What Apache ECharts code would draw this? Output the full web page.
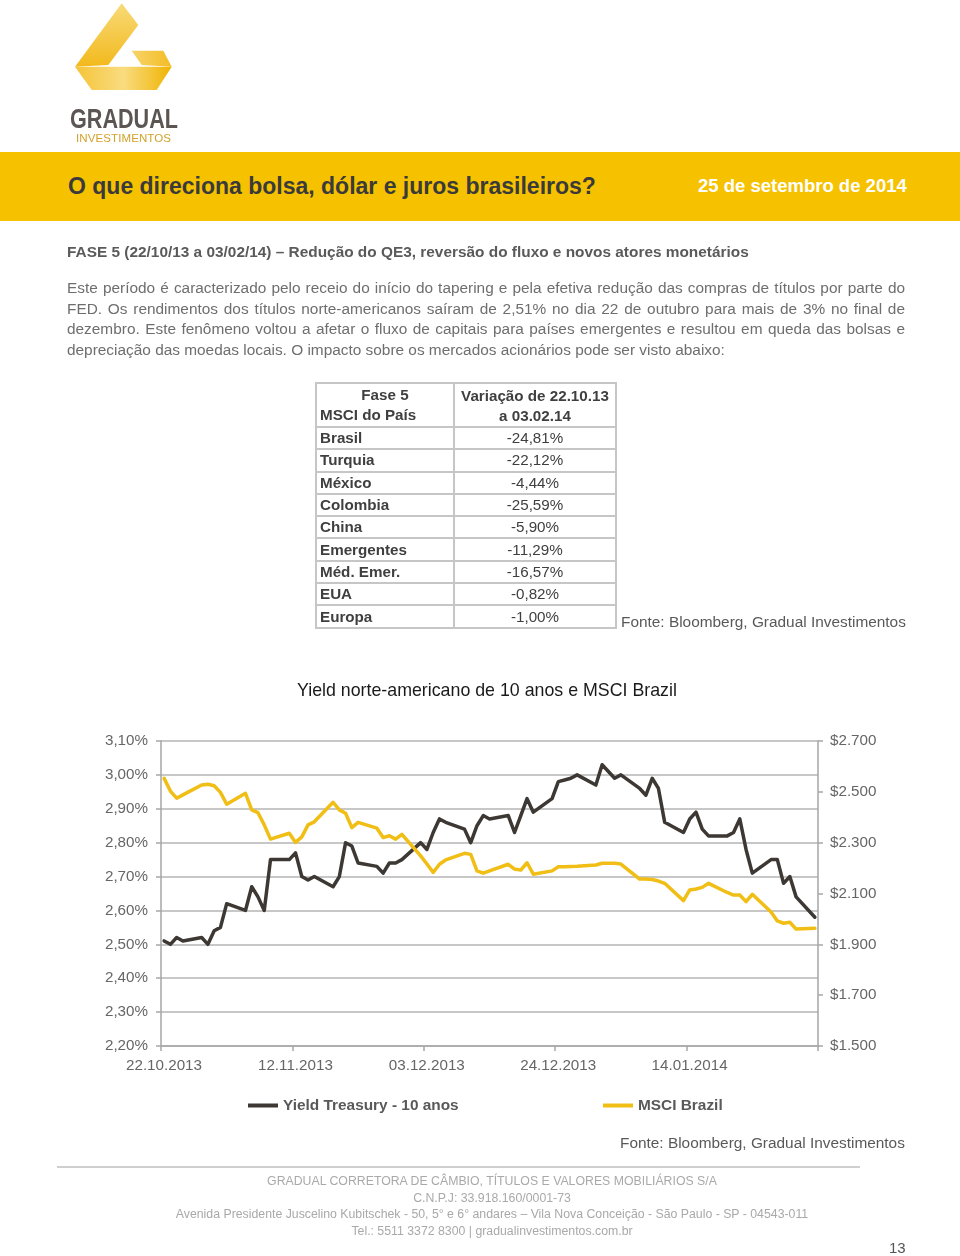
<!DOCTYPE html>
<html><head><meta charset="utf-8">
<script src="https://cdn.jsdelivr.net/npm/echarts@6/dist/echarts.min.js"></script>
<style>
html,body{margin:0;padding:0;background:#fff;}
body{width:960px;height:1256px;position:relative;overflow:hidden;font-family:"Liberation Sans",Arial,sans-serif;}
#chart{position:absolute;left:0;top:0;width:960px;height:1256px;}
.abs{position:absolute;white-space:nowrap;}
.pl{position:absolute;left:67px;width:838px;font-size:15.4px;line-height:20px;color:#6e6e6e;white-space:nowrap;}
.j{text-align:justify;text-align-last:justify;white-space:normal;}
table.t{position:absolute;left:315px;top:382px;border-collapse:collapse;font-size:15.2px;color:#3f3f3f;}
table.t td{border:2px solid #c6c6c6;padding:0 3px;height:20.3px;line-height:20px;}
table.t td.n{font-weight:bold;text-align:left;width:130px;}
table.t td.v{text-align:center;width:154px;}
.foot{position:absolute;left:92px;width:800px;text-align:center;font-size:12.3px;color:#a9a9a9;line-height:16px;}
</style></head>
<body>
<div id="chart"></div>

<svg class="abs" style="left:0;top:0" width="200" height="150" viewBox="0 0 200 150">
  <defs>
    <linearGradient id="g1" x1="0" y1="0" x2="0" y2="1">
      <stop offset="0" stop-color="#f8da78"/><stop offset="1" stop-color="#f2b91c"/>
    </linearGradient>
    <linearGradient id="g2" x1="0" y1="0" x2="1" y2="0">
      <stop offset="0" stop-color="#f5c437"/><stop offset="0.5" stop-color="#f9dc80"/><stop offset="1" stop-color="#f0b300"/>
    </linearGradient>
    <linearGradient id="g3" x1="0" y1="0" x2="1" y2="0">
      <stop offset="0" stop-color="#f7d368"/><stop offset="1" stop-color="#f3bd25"/>
    </linearGradient>
  </defs>
  <polygon points="121.7,3.3 138.3,25 108.3,65 75,66.7" fill="url(#g1)"/>
  <polygon points="75,66.7 171.7,66.7 156.7,90 91.7,90" fill="url(#g2)"/>
  <polygon points="131.7,50.7 163.3,50.7 171.7,66.7 141.7,65" fill="url(#g3)"/>
  <text x="70" y="128" font-family="Liberation Sans, Arial" font-weight="bold" font-size="28" fill="#5b5553" textLength="108" lengthAdjust="spacingAndGlyphs">GRADUAL</text>
  <text x="76" y="142" font-family="Liberation Sans, Arial" font-size="11.5" fill="#d2a22a" textLength="95" lengthAdjust="spacing">INVESTIMENTOS</text>
</svg>

<div class="abs" style="left:0;top:152px;width:960px;height:69px;background:#F6C200"></div>
<div class="abs" style="left:68px;top:172px;font-size:23px;line-height:28px;font-weight:bold;color:#3a3a3a;">O que direciona bolsa, dólar e juros brasileiros?</div>
<div class="abs" style="left:698px;top:175px;font-size:18.5px;line-height:22px;font-weight:bold;color:#ffffff;">25 de setembro de 2014</div>

<div class="abs" style="left:67px;top:243px;font-size:15.4px;line-height:18px;font-weight:bold;color:#5a5a5a;">FASE 5 (22/10/13 a 03/02/14) – Redução do QE3, reversão do fluxo e novos atores monetários</div>

<div class="pl j" style="top:278px;">Este período é caracterizado pelo receio do início do tapering e pela efetiva redução das compras de títulos por parte do</div>
<div class="pl j" style="top:299px;">FED. Os rendimentos dos títulos norte-americanos saíram de 2,51% no dia 22 de outubro para mais de 3% no final de</div>
<div class="pl j" style="top:319px;">dezembro. Este fenômeno voltou a afetar o fluxo de capitais para países emergentes e resultou em queda das bolsas e</div>
<div class="pl" style="top:340px;">depreciação das moedas locais. O impacto sobre os mercados acionários pode ser visto abaixo:</div>

<table class="t">
<tr><td class="n" style="height:41px;line-height:20px;"><div style="text-align:center">Fase 5</div><div>MSCI do País</div></td>
<td class="v" style="font-weight:bold;height:41px;line-height:20px;"><div style="padding-top:2px">Variação de 22.10.13</div><div>a 03.02.14</div></td></tr>
<tr><td class="n">Brasil</td><td class="v">-24,81%</td></tr>
<tr><td class="n">Turquia</td><td class="v">-22,12%</td></tr>
<tr><td class="n">México</td><td class="v">-4,44%</td></tr>
<tr><td class="n">Colombia</td><td class="v">-25,59%</td></tr>
<tr><td class="n">China</td><td class="v">-5,90%</td></tr>
<tr><td class="n">Emergentes</td><td class="v">-11,29%</td></tr>
<tr><td class="n">Méd. Emer.</td><td class="v">-16,57%</td></tr>
<tr><td class="n">EUA</td><td class="v">-0,82%</td></tr>
<tr><td class="n">Europa</td><td class="v">-1,00%</td></tr>
</table>
<div class="abs" style="left:621px;top:613px;font-size:15.4px;line-height:18px;color:#595959;">Fonte: Bloomberg, Gradual Investimentos</div>

<div class="abs" style="left:620px;top:1134px;font-size:15.4px;line-height:18px;color:#595959;">Fonte: Bloomberg, Gradual Investimentos</div>

<div class="abs" style="left:57px;top:1166px;width:803px;height:2px;background:#cfcfcf"></div>
<div class="foot" style="top:1173px;">GRADUAL CORRETORA DE CÂMBIO, TÍTULOS E VALORES MOBILIÁRIOS S/A</div>
<div class="foot" style="top:1190px;">C.N.P.J: 33.918.160/0001-73</div>
<div class="foot" style="top:1206px;">Avenida Presidente Juscelino Kubitschek - 50, 5° e 6° andares – Vila Nova Conceição - São Paulo - SP - 04543-011</div>
<div class="foot" style="top:1223px;">Tel.: 5511 3372 8300 | gradualinvestimentos.com.br</div>
<div class="abs" style="left:889px;top:1239px;font-size:15px;line-height:18px;color:#555;">13</div>

<script>
const dates = [
 '2013-10-22','2013-10-23','2013-10-24','2013-10-25',
 '2013-10-28','2013-10-29','2013-10-30','2013-10-31','2013-11-01',
 '2013-11-04','2013-11-05','2013-11-06','2013-11-07','2013-11-08',
 '2013-11-11','2013-11-12','2013-11-13','2013-11-14','2013-11-15',
 '2013-11-18','2013-11-19','2013-11-20','2013-11-21','2013-11-22',
 '2013-11-25','2013-11-26','2013-11-27','2013-11-28','2013-11-29',
 '2013-12-02','2013-12-03','2013-12-04','2013-12-05','2013-12-06',
 '2013-12-09','2013-12-10','2013-12-11','2013-12-12','2013-12-13',
 '2013-12-16','2013-12-17','2013-12-18','2013-12-19','2013-12-20',
 '2013-12-23','2013-12-24','2013-12-25','2013-12-26','2013-12-27',
 '2013-12-30','2013-12-31','2014-01-01','2014-01-02','2014-01-03',
 '2014-01-06','2014-01-07','2014-01-08','2014-01-09','2014-01-10',
 '2014-01-13','2014-01-14','2014-01-15','2014-01-16','2014-01-17',
 '2014-01-20','2014-01-21','2014-01-22','2014-01-23','2014-01-24',
 '2014-01-27','2014-01-28','2014-01-29','2014-01-30','2014-01-31',
 '2014-02-03'
];
const yieldTreasury = [
 2.51,2.50,2.52,2.51,
 2.52,2.50,2.54,2.55,2.62,
 2.60,2.67,2.64,2.60,2.75,
 2.75,2.77,2.70,2.69,2.70,
 2.67,2.70,2.80,2.79,2.74,
 2.73,2.71,2.74,2.74,2.75,
 2.80,2.78,2.83,2.87,2.86,
 2.84,2.80,2.85,2.88,2.87,
 2.88,2.83,2.88,2.93,2.89,
 2.93,2.98,2.985,2.99,3.00,
 2.97,3.03,3.01,2.99,3.00,
 2.96,2.94,2.99,2.96,2.86,
 2.83,2.87,2.89,2.84,2.82,
 2.82,2.83,2.87,2.78,2.71,
 2.75,2.75,2.68,2.70,2.64,
 2.58
];
const msciBrazil = [
 2.553,2.503,2.475,2.488,
 2.527,2.530,2.524,2.498,2.451,
 2.494,2.429,2.418,2.370,2.314,
 2.337,2.301,2.323,2.370,2.382,
 2.459,2.429,2.416,2.359,2.380,
 2.357,2.320,2.327,2.314,2.333,
 2.248,2.216,2.183,2.215,2.232,
 2.258,2.254,2.189,2.180,2.189,
 2.215,2.196,2.192,2.221,2.176,
 2.189,2.205,2.205,2.206,2.207,
 2.212,2.219,2.219,2.219,2.216,
 2.157,2.157,2.155,2.149,2.140,
 2.072,2.114,2.118,2.124,2.140,
 2.104,2.094,2.094,2.068,2.097,
 2.027,1.992,1.983,1.987,1.960,
 1.963
];
const xTickLabels = ['22.10.2013','12.11.2013','03.12.2013','24.12.2013','14.01.2014'];
const seriesNames = ['Yield Treasury - 10 anos','MSCI Brazil'];

const FONT = '"Liberation Sans", Arial, sans-serif';
const startMs = Date.UTC(2013, 9, 22);
function dayPos(s){
  const p = s.split('-').map(Number);
  return (Date.UTC(p[0], p[1]-1, p[2]) - startMs) / 86400000 + 0.5;
}
const yData = dates.map((d,i)=>[dayPos(d), yieldTreasury[i]]);
const mData = dates.map((d,i)=>[dayPos(d), msciBrazil[i]]);

const axisCol = '#a6a6a6';
const labelStyle = {color:'#666666', fontSize:15.2, fontFamily:FONT};
const legendText = {color:'#595959', fontSize:15.4, fontWeight:'bold', fontFamily:FONT};

const chart = echarts.init(document.getElementById('chart'), null, {renderer:'canvas'});
chart.setOption({
  animation:false,
  title:{text:'Yield norte-americano de 10 anos e MSCI Brazil', left:297, top:682, padding:0,
    textStyle:{fontFamily:FONT, fontSize:17.8, fontWeight:'normal', color:'#1a1a1a'}},
  legend:[
    {left:248, top:1098, padding:0, data:[seriesNames[0]], icon:'rect', itemWidth:30, itemHeight:4, itemGap:0, textStyle:legendText},
    {left:603, top:1098, padding:0, data:[seriesNames[1]], icon:'rect', itemWidth:30, itemHeight:4, itemGap:0, textStyle:legendText}
  ],
  grid:{left:161, right:142, top:741, bottom:210},
  xAxis:{type:'value', min:0, max:105, interval:21,
    axisLine:{show:true, lineStyle:{color:axisCol, width:1.5}},
    axisTick:{show:true, length:5, lineStyle:{color:axisCol, width:1.5}},
    splitLine:{show:false},
    axisLabel:Object.assign({margin:12, padding:[0,0,0,6], formatter:function(v){
      const k = Math.round(v/21);
      return (Math.abs(v - k*21) < 1e-6 && k < xTickLabels.length) ? xTickLabels[k] : '';
    }}, labelStyle)
  },
  yAxis:[
    {type:'value', min:2.2, max:3.1, interval:0.1, position:'left',
      axisLine:{show:true, lineStyle:{color:axisCol, width:1.5}},
      axisTick:{show:true, length:5, lineStyle:{color:axisCol, width:1.5}},
      splitLine:{show:true, lineStyle:{color:'#b4b4b4', width:1.5}},
      axisLabel:Object.assign({margin:13, formatter:function(v){return v.toFixed(2).replace('.',',')+'%';}}, labelStyle)
    },
    {type:'value', min:1.5, max:2.7, interval:0.2, position:'right',
      axisLine:{show:true, lineStyle:{color:axisCol, width:1.5}},
      axisTick:{show:true, length:5, lineStyle:{color:axisCol, width:1.5}},
      splitLine:{show:false},
      axisLabel:Object.assign({margin:12, formatter:function(v){return '$'+v.toFixed(3);}}, labelStyle)
    }
  ],
  series:[
    {name:seriesNames[0], type:'line', yAxisIndex:0, data:yData, showSymbol:false, symbol:'none',
      lineStyle:{color:'#3d3833', width:3.5, join:'round', cap:'round'}, itemStyle:{color:'#3d3833'}},
    {name:seriesNames[1], type:'line', yAxisIndex:1, data:mData, showSymbol:false, symbol:'none',
      lineStyle:{color:'#F0BE14', width:3.5, join:'round', cap:'round'}, itemStyle:{color:'#F0BE14'}}
  ]
});
</script>
</body></html>
